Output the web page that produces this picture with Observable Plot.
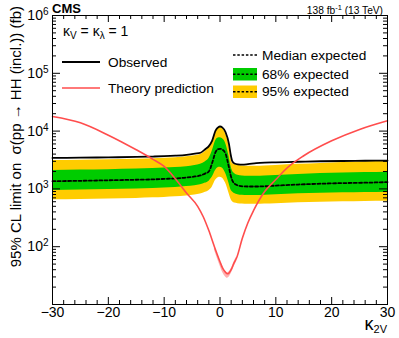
<!DOCTYPE html>
<html><head><meta charset="utf-8">
<script src="https://cdn.jsdelivr.net/npm/d3@7"></script>
<script src="https://cdn.jsdelivr.net/npm/@observablehq/plot@0.6"></script>
<style>
body{margin:0;background:#fff}
svg{font-family:"Liberation Sans",Arial,Helvetica,sans-serif}
</style>
</head><body><div id="chart"></div>
<script>
// kappa_2V grid for limits
const kappa = [-30,-25,-20,-15,-12,-10,-8,-6,-4.5,-3.5,-2.6,-2,-1.4,-0.8,-0.3,0,0.4,1.0,1.6,1.9,2.2,2.6,3.2,4,5,6.5,8,10,14,18,22,26,30];
const observed   = [3430,3470,3510,3570,3630,3680,3760,3890,4070,4220,4900,5500,6870,10200,11700,12000,11600,9550,6030,3980,3020,2750,2660,2630,2680,2790,2850,2880,2950,3010,3040,3070,3090];
const median     = [1360,1380,1410,1440,1460,1490,1520,1570,1640,1710,1860,2000,2820,4320,4900,4940,4790,4050,2370,1740,1400,1230,1150,1110,1100,1100,1110,1140,1190,1230,1260,1280,1310];
const green68Lo  = [938,955,973,995,1019,1035,1059,1096,1135,1175,1259,1349,1585,2089,2344,2371,2291,1862,1259,1000,891,832,794,776,767,767,776,794,822,841,857,867,877];
const green68Hi  = [2080,2113,2153,2203,2249,2291,2344,2427,2541,2661,2951,3311,4467,6761,7586,7656,7413,6166,3715,2630,2089,1841,1718,1667,1652,1652,1667,1706,1778,1841,1884,1914,1945];
const yellow95Lo = [646,658,670,685,700,711,728,753,785,813,871,933,1072,1413,1567,1585,1549,1259,851,692,603,569,556,546,540,540,546,556,575,589,600,607,612];
const yellow95Hi = [3090,3141,3199,3266,3327,3388,3467,3597,3758,3936,4467,5129,6607,9772,11220,11482,11092,9120,5623,3548,2818,2650,2570,2483,2455,2455,2495,2541,2661,2754,2851,2938,3020];

// theory prediction
const theoryK = [-30,-25,-20,-15,-12,-10,-8,-6,-4,-3,-2,-1,0,0.5,1,1.3,1.6,2,2.5,3,4,5,6,8,10,12,15,20,25,30];
const theory  = [17900,13900,8500,4750,3250,2450,1500,850,500,330,190,100,55,42,36,34,35,40,52,65,140,260,420,900,1450,2300,3750,6800,10700,15100];
const bandK    = [-1,0,0.5,1,1.3,1.6,2,2.5,3];
const theoryLo = [88,47,35.5,30,28.5,29.5,34,44,56];
const theoryHi = [104,57,43.5,37.5,35.5,36.5,41.5,54,67];

// axis ticks
const xMajor = [-30,-20,-10,0,10,20,30];
const xMinor = [-28,-26,-24,-22,-18,-16,-14,-12,-8,-6,-4,-2,2,4,6,8,12,14,16,18,22,24,26,28];
const yMajor = [100,1000,10000,100000,1000000];
const decades = [10,100,1000,10000,100000];
const mult = [2,3,4,5,6,7,8,9];
const yMinor = decades.flatMap(d => mult.map(m => d*m));

const W=399,H=338,mL=52,mR=12,mT=15,mB=34;
const fw=W-mL-mR, fh=H-mT-mB;
const FONT='"Liberation Sans",Arial,Helvetica,sans-serif';
const GREEN="#00cc00", YELLOW="#ffcc00", RED="#ff4d4d";

const rows = kappa.map((k,i)=>({k,obs:observed[i],med:median[i],g1:green68Lo[i],g2:green68Hi[i],y1:yellow95Lo[i],y2:yellow95Hi[i]}));
const th = theoryK.map((k,i)=>({k,v:theory[i]}));
const thb = bandK.map((k,i)=>({k,lo:theoryLo[i],hi:theoryHi[i]}));

const plot = Plot.plot({
  width:W, height:H, marginLeft:mL, marginRight:mR, marginTop:mT, marginBottom:mB,
  style:{fontFamily:FONT, background:"white", color:"black"},
  x:{domain:[-30,30], axis:null, label:null},
  y:{type:"log", domain:[10,1e6], axis:null, label:null},
  marks:[
    Plot.areaY(rows,{x:"k",y1:"y1",y2:"y2",fill:YELLOW,curve:"monotone-x"}),
    Plot.areaY(rows,{x:"k",y1:"g1",y2:"g2",fill:GREEN,curve:"monotone-x"}),
    Plot.line(rows,{x:"k",y:"med",stroke:"black",strokeWidth:1.8,strokeDasharray:"3,2.2",curve:"monotone-x"}),
    Plot.line(rows,{x:"k",y:"obs",stroke:"black",strokeWidth:1.8,curve:"monotone-x"}),
    Plot.areaY(thb,{x:"k",y1:"lo",y2:"hi",fill:"#ffb0b0",curve:"monotone-x"}),
    Plot.line(th,{x:"k",y:"v",stroke:RED,strokeWidth:1.6,curve:"monotone-x"}),
    Plot.frame({stroke:"black",strokeWidth:1}),
    Plot.ruleX(xMajor,{insetTop:fh-7,stroke:"black"}),
    Plot.ruleX(xMinor,{insetTop:fh-4,stroke:"black"}),
    Plot.ruleX(xMajor,{insetBottom:fh-7,stroke:"black"}),
    Plot.ruleX(xMinor,{insetBottom:fh-4,stroke:"black"}),
    Plot.ruleY(yMajor,{insetRight:fw-8,stroke:"black"}),
    Plot.ruleY(yMinor,{insetRight:fw-4,stroke:"black"}),
    Plot.ruleY(yMajor,{insetLeft:fw-8,stroke:"black"}),
    Plot.ruleY(yMinor,{insetLeft:fw-4,stroke:"black"}),
    Plot.axisX(xMajor,{anchor:"bottom",tickSize:0,tickPadding:3,fontSize:14,label:null,
      tickFormat:d=>d<0?"\u2212"+Math.abs(d):String(d)}),
    Plot.axisY(yMajor,{anchor:"left",tickSize:0,tickPadding:4,fontSize:14,label:null,
      tickFormat:d=>"10^"+Math.round(Math.log10(d))})
  ]
});
document.getElementById("chart").appendChild(plot);

const svg = d3.select(plot);
// superscript exponents on y tick labels
svg.selectAll('g[aria-label="y-axis tick label"] text').each(function(){
  const t=d3.select(this); const s=t.text(); const parts=s.split("^");
  t.text(null);
  t.append("tspan").text(parts[0]);
  t.append("tspan").attr("dy","-0.5em").attr("font-size","10px").text(parts[1]);
});

const g = svg.append("g").attr("font-family",FONT).attr("fill","black").attr("text-anchor","start");
// CMS label
g.append("text").attr("x",52).attr("y",13).attr("font-size",13).attr("font-weight","bold").text("CMS");
// lumi
const lumi = g.append("text").attr("x",383).attr("y",14).attr("font-size",10.2).attr("text-anchor","end");
lumi.append("tspan").text("138 fb");
lumi.append("tspan").attr("dy",-4).attr("font-size",7.5).text("-1");
lumi.append("tspan").attr("dy",4).text(" (13 TeV)");
// kappa text
const kt = g.append("text").attr("x",63).attr("y",36).attr("font-size",14);
kt.append("tspan").text("κ");
kt.append("tspan").attr("dy",3).attr("font-size",10).text("V");
kt.append("tspan").attr("dy",-3).text(" = κ");
kt.append("tspan").attr("dy",3).attr("font-size",10).text("λ");
kt.append("tspan").attr("dy",-3).text(" = 1");
// y axis title
g.append("text").attr("transform","translate(21,6) rotate(-90)").attr("text-anchor","end").attr("font-size",15)
  .text("95% CL limit on  σ(pp → HH (incl.)) (fb)");
// x axis title
const xt = g.append("text").attr("x",387).attr("y",330).attr("text-anchor","end").attr("font-size",18);
xt.append("tspan").text("κ");
xt.append("tspan").attr("dy",3).attr("font-size",11).text("2V");

// legend left
g.append("line").attr("x1",62).attr("x2",100).attr("y1",62).attr("y2",62).attr("stroke","black").attr("stroke-width",1.8);
g.append("text").attr("x",108).attr("y",66.8).attr("font-size",13.7).text("Observed");
g.append("line").attr("x1",62).attr("x2",100).attr("y1",88).attr("y2",88).attr("stroke",RED).attr("stroke-width",1.6);
g.append("text").attr("x",108).attr("y",92.8).attr("font-size",13.7).text("Theory prediction");
// legend right
g.append("line").attr("x1",233).attr("x2",257).attr("y1",55).attr("y2",55).attr("stroke","black").attr("stroke-width",1.5).attr("stroke-dasharray","2.5,1.8");
g.append("text").attr("x",262).attr("y",59.8).attr("font-size",13.7).text("Median expected");
g.append("rect").attr("x",233).attr("y",68).attr("width",24).attr("height",12.5).attr("fill",GREEN);
g.append("line").attr("x1",233).attr("x2",257).attr("y1",74.2).attr("y2",74.2).attr("stroke","black").attr("stroke-width",1.5).attr("stroke-dasharray","2.5,1.8");
g.append("text").attr("x",262).attr("y",79).attr("font-size",13.7).text("68% expected");
g.append("rect").attr("x",233).attr("y",85.5).attr("width",24).attr("height",12.5).attr("fill",YELLOW);
g.append("line").attr("x1",233).attr("x2",257).attr("y1",91.7).attr("y2",91.7).attr("stroke","black").attr("stroke-width",1.5).attr("stroke-dasharray","2.5,1.8");
g.append("text").attr("x",262).attr("y",95.8).attr("font-size",13.7).text("95% expected");
</script>
</body></html>
